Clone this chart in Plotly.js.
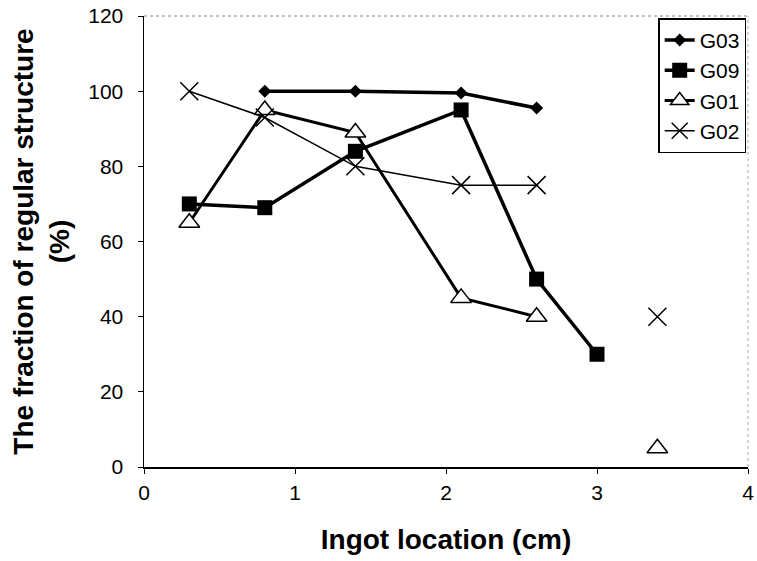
<!DOCTYPE html>
<html>
<head>
<meta charset="utf-8">
<script src="https://cdn.plot.ly/plotly-3.0.1.min.js"></script>
<style>body{margin:0;background:#fff}#chart{width:757px;height:561px}</style>
</head>
<body>
<div id="chart"></div>
<script>
// Ingot locations (cm)
const locations = [0.3, 0.8, 1.4, 2.1, 2.6, 3.0, 3.4];
// Fraction of regular structure (%) per sample
const g03 = [null, 100, 100, 99.5, 95.5, null, null];
const g09 = [70, 69, 84, 95, 50, 30, null];
const g01 = [65, 95, 89, 45, 40, null, 5];
const g02 = [100, 93, 80, 75, 75, null, 40];
const seriesNames = ['G03', 'G09', 'G01', 'G02'];
const xTicks = [0, 1, 2, 3, 4];
const yTicks = [0, 20, 40, 60, 80, 100, 120];

const font = 'Liberation Sans, Arial, sans-serif';
const traces = [
  {x: locations, y: g03, name: seriesNames[0], mode: 'lines+markers',
   line: {color: '#000', width: 3.5},
   marker: {symbol: 'diamond', size: 10, color: '#000'}},
  {x: locations, y: g09, name: seriesNames[1], mode: 'lines+markers',
   line: {color: '#000', width: 3.5},
   marker: {symbol: 'square', size: 15, color: '#000'}},
  {x: locations, y: g01, name: seriesNames[2], mode: 'lines+markers',
   line: {color: '#000', width: 3},
   marker: {symbol: 'triangle-up', size: 18, color: '#fff', line: {color: '#000', width: 1.5}}},
  {x: locations, y: g02, name: seriesNames[3], mode: 'lines+markers',
   line: {color: '#000', width: 1.5},
   marker: {symbol: 'x-thin-open', size: 18, color: '#000', line: {color: '#000', width: 1.5}}}
];

const layout = {
  width: 757, height: 561,
  margin: {l: 144, r: 9, t: 16, b: 94},
  paper_bgcolor: '#fff', plot_bgcolor: '#fff',
  font: {family: font, color: '#000', size: 21},
  showlegend: true,
  legend: {x: 0.997, xanchor: 'right', y: 0.995, yanchor: 'top',
           bordercolor: '#000', borderwidth: 1.5, bgcolor: '#fff',
           font: {family: font, size: 21, color: '#000'},
           tracegroupgap: 0},
  xaxis: {range: [0, 4], tickvals: xTicks, ticktext: xTicks.map(String),
          showgrid: false, zeroline: false, showline: true, linecolor: '#000', linewidth: 1.5,
          ticks: 'outside', ticklen: 5, tickcolor: '#000', tickfont: {size: 21},
          ticklabelstandoff: 1,
          title: {text: '<b>Ingot location (cm)</b>', font: {size: 28}, standoff: 26}},
  yaxis: {range: [0, 120], tickvals: yTicks, ticktext: yTicks.map(String),
          showgrid: false, zeroline: false, showline: true, linecolor: '#000', linewidth: 1.5,
          ticks: 'outside', ticklen: 5, tickcolor: '#000', tickfont: {size: 21},
          ticklabelstandoff: 10,
          title: {text: '<b>The fraction of regular structure<br>(%)</b>', font: {size: 28}, standoff: 10}},
  shapes: [
    {type: 'line', xref: 'paper', yref: 'paper', x0: 0, x1: 1, y0: 1, y1: 1,
     line: {color: '#888', width: 1, dash: 'dot'}},
    {type: 'line', xref: 'paper', yref: 'paper', x0: 1, x1: 1, y0: 0, y1: 1,
     line: {color: '#aaa', width: 1, dash: 'dot'}}
  ]
};

Plotly.newPlot('chart', traces, layout, {displayModeBar: false, staticPlot: true});
</script>
</body>
</html>
